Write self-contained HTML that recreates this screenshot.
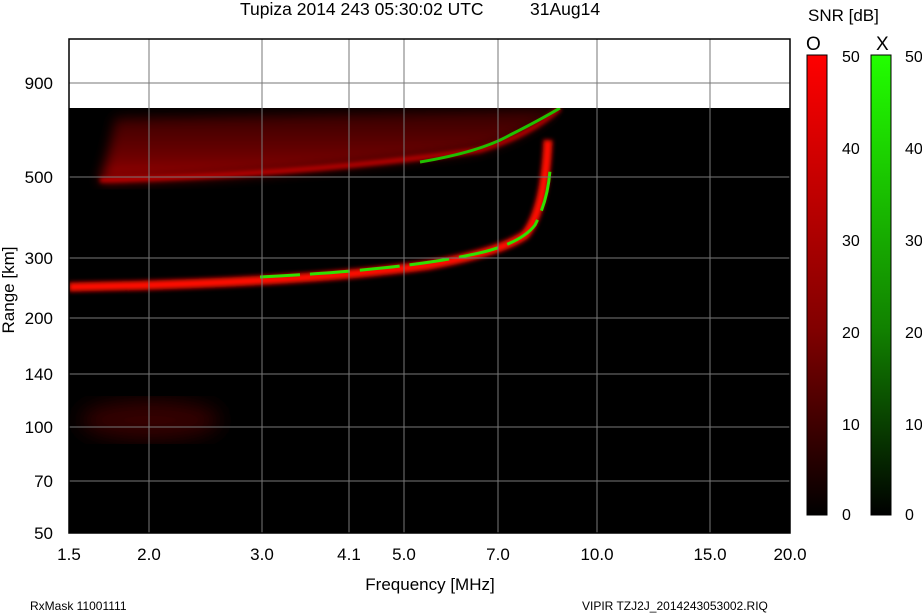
<!DOCTYPE html>
<html><head><style>
body{margin:0;background:#fff;width:922px;height:614px;overflow:hidden;font-family:"Liberation Sans",sans-serif;}
svg{position:absolute;left:0;top:0}
text{font-family:"Liberation Sans",sans-serif;fill:#000}
</style></head><body>
<svg width="922" height="614" viewBox="0 0 922 614">
<defs>
<filter id="b2"><feGaussianBlur stdDeviation="2"/></filter>
<filter id="b6"><feGaussianBlur stdDeviation="6"/></filter>
<filter id="b10"><feGaussianBlur stdDeviation="10"/></filter>
<linearGradient id="gr" x1="0" y1="0" x2="0" y2="1"><stop offset="0" stop-color="#ff0000"/><stop offset="0.6" stop-color="#800000"/><stop offset="1" stop-color="#000"/></linearGradient>
<linearGradient id="gg" x1="0" y1="0" x2="0" y2="1"><stop offset="0" stop-color="#22ff00"/><stop offset="0.6" stop-color="#118000"/><stop offset="1" stop-color="#000"/></linearGradient>
<linearGradient id="band" x1="0" y1="0" x2="0" y2="1"><stop offset="0" stop-color="#300000"/><stop offset="0.7" stop-color="#700000"/><stop offset="1" stop-color="#a00000"/></linearGradient>
<clipPath id="c"><rect x="69" y="108" width="721" height="425"/></clipPath>
</defs>
<text x="240" y="15" font-size="17.5">Tupiza 2014 243 05:30:02 UTC</text>
<text x="530" y="15" font-size="17.5">31Aug14</text>
<text x="808" y="21" font-size="17">SNR [dB]</text>
<rect x="69" y="39" width="721" height="69" fill="#fff"/>
<rect x="69" y="108" width="721" height="425" fill="#000"/>
<g clip-path="url(#c)">
<path d="M115 118 Q300 114 560 108 Q530 135 480 150 Q300 175 100 182 Q110 150 115 118 Z" fill="url(#band)" filter="url(#b6)"/>
<path d="M100 180 Q300 175 480 150 Q530 135 560 108" stroke="#c00000" stroke-width="5" fill="none" filter="url(#b2)"/>
<path d="M420 162 Q480 152 510 135 Q540 120 560 108" stroke="#20c000" stroke-width="3" fill="none"/>
<path d="M69 287 Q300 283 430 265 Q500 252 525 235 Q545 210 548 140" stroke="#ff1000" stroke-width="9" fill="none" filter="url(#b2)"/>
<path d="M260 277 Q400 270 470 255 Q520 245 535 225 Q548 200 550 170" stroke="#30e000" stroke-width="3" fill="none" stroke-dasharray="40 10"/>
<ellipse cx="150" cy="420" rx="70" ry="20" fill="#350000" filter="url(#b10)"/>
</g>
<g stroke="#777" stroke-width="1" fill="none">
<path d="M149 39V533M262 39V533M349 39V533M404 39V533M498 39V533M597 39V533M710 39V533"/>
<path d="M69 83H790M69 177H790M69 258H790M69 318H790M69 374H790M69 427H790M69 481H790"/>
</g>
<rect x="69" y="39" width="721" height="494" fill="none" stroke="#000" stroke-width="1.5"/>
<g font-size="17" text-anchor="end">
<text x="53" y="89">900</text><text x="53" y="183">500</text><text x="53" y="264">300</text><text x="53" y="324">200</text><text x="53" y="380">140</text><text x="53" y="433">100</text><text x="53" y="487">70</text><text x="53" y="539">50</text>
</g>
<g font-size="17" text-anchor="middle">
<text x="69" y="560">1.5</text><text x="149" y="560">2.0</text><text x="262" y="560">3.0</text><text x="349" y="560">4.1</text><text x="404" y="560">5.0</text><text x="498" y="560">7.0</text><text x="597" y="560">10.0</text><text x="710" y="560">15.0</text><text x="790" y="560">20.0</text>
<text x="430" y="590">Frequency [MHz]</text>
</g>
<text transform="translate(14,290) rotate(-90)" font-size="17" text-anchor="middle">Range [km]</text>
<text x="30" y="610" font-size="12">RxMask 11001111</text>
<text x="582" y="610" font-size="12">VIPIR  TZJ2J_2014243053002.RIQ</text>
<text x="806" y="50" font-size="19">O</text><text x="876" y="50" font-size="19">X</text>
<rect x="807" y="55" width="20" height="460" fill="url(#gr)" stroke="#000"/>
<rect x="871" y="55" width="20" height="460" fill="url(#gg)" stroke="#000"/>
<g font-size="16" fill="#333">
<text x="842" y="62">50</text><text x="842" y="154">40</text><text x="842" y="246">30</text><text x="842" y="338">20</text><text x="842" y="430">10</text><text x="842" y="520">0</text>
<text x="905" y="62">50</text><text x="905" y="154">40</text><text x="905" y="246">30</text><text x="905" y="338">20</text><text x="905" y="430">10</text><text x="905" y="520">0</text>
</g>
</svg>
</body></html>
